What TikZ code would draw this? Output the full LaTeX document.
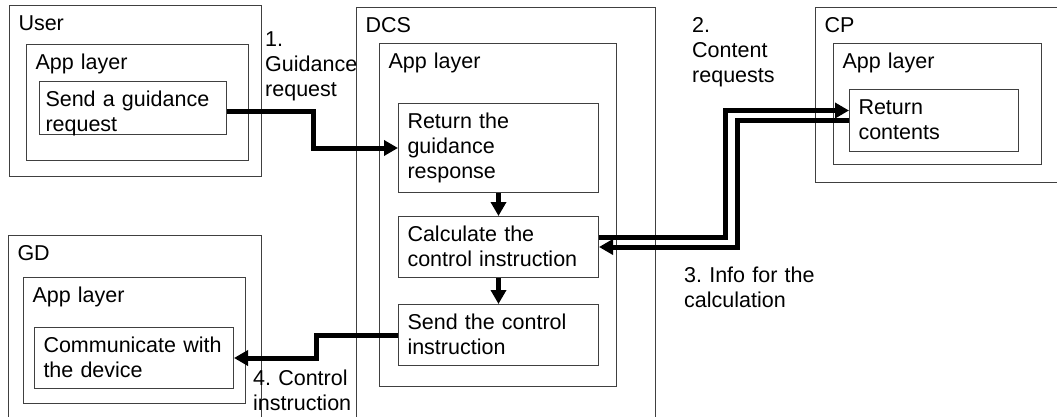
\documentclass[tikz,border=0pt]{standalone}
\usepackage{fontspec}
\setmainfont{Liberation Sans}
\usetikzlibrary{arrows.meta}
\frenchspacing

\begin{document}
\begin{tikzpicture}[x=1pt, y=-1pt,
    font=\fontsize{21.5}{25}\selectfont,
    box/.style={draw=black!75, line width=1pt, anchor=north west,
      align=left, inner xsep=9pt, inner ysep=0pt, text height=25pt},
    flow/.style={line width=5pt, -{Triangle[length=14pt, width=15pt]}},
    note/.style={anchor=base west, align=left, inner sep=0pt,
      text width=140pt}]
  \useasboundingbox (0,0) rectangle (1057,417);
  \clip (0,0) rectangle (1057,417);

  \node [box, text width=234pt, text depth=146pt] (user)   at (9,5)   {User};
  \node [box, text width=204pt, text depth=91pt]  (userapp) at (26,44) {App layer};
  \node [box, text width=281pt, text depth=398pt] (dcs)    at (356,7) {DCS};
  \node [box, text width=219pt, text depth=318pt] (dcsapp) at (379,43) {App layer};
  \node [box, text width=237pt, text depth=150pt] (cp)     at (815,7) {CP};
  \node [box, text width=190pt, text depth=96pt]  (cpapp)  at (833,43) {App layer};
  \node [box, text width=235pt, text depth=170pt] (gd)     at (8,235) {GD};
  \node [box, text width=204pt, text depth=101pt] (gdapp)  at (23,277) {App layer};

  \node [box, inner xsep=6pt, text width=175pt, text depth=28pt] (sendreq)
    at (39,81) {Send a guidance\\request};
  \node [box, text width=182pt, text depth=64pt] (retguide)
    at (398,103) {Return the\\guidance\\response};
  \node [box, text width=182pt, text depth=36pt] (calc)
    at (398,216) {Calculate the\\control instruction};
  \node [box, text width=182pt, text depth=36pt] (sendctl)
    at (398,304) {Send the control\\instruction};
  \node [box, text width=181pt, text depth=36pt] (commdev)
    at (34,327) {Communicate with\\the device};
  \node [box, text width=151pt, text depth=37pt] (retcont)
    at (849,89) {Return\\contents};

  \draw [flow] ([yshift=-4pt]sendreq.east) -- ++(86,0) |- (retguide.west);
  \draw [flow] (retguide) -- (calc);
  \draw [flow] (calc) -- (sendctl);
  \draw [flow] ([yshift=10pt]calc.east) -- ++(126,0)
    |- ([yshift=10pt]retcont.west);
  \draw [flow] (retcont.west) -- ++(-112,0) |- (calc.east);
  \draw [flow] (sendctl.west) -- ++(-82,0) |- (commdev.east);

  \node [note] (req1) at (265,47)  {1.\\Guidance\\request};
  \node [note] (req2) at (692,33)  {2.\\Content\\requests};
  \node [note] (info) at (684,282) {3. Info for the\\calculation};
  \node [note] (ctrl) at (253,385) {4. Control\\instruction};
\end{tikzpicture}
\end{document}
